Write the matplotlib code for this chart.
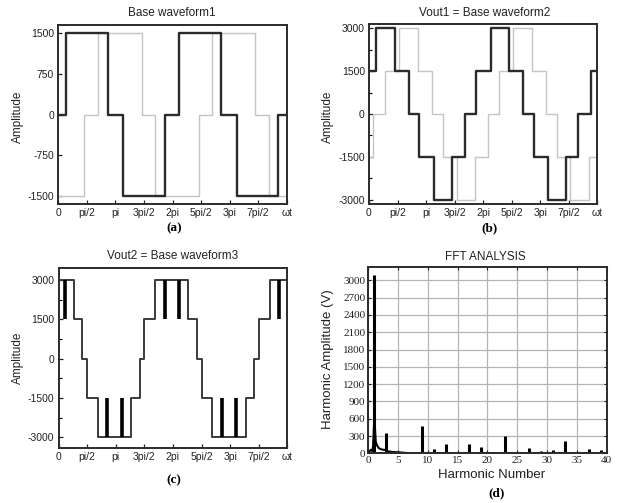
import numpy as np
import matplotlib
matplotlib.use('Agg')
import matplotlib.pyplot as plt

# x positions in degrees (0..720 = 0..4pi)
a_black_edges = [0, 23, 158, 203, 336, 381, 514, 562, 694, 720]
a_black_levels = [0, 1500, 0, -1500, 0, 1500, 0, -1500, 0]
a_gray_edges = [0, 82, 124, 263, 305, 443, 485, 619, 664, 720]
a_gray_levels = [-1500, 0, 1500, 0, -1500, 0, 1500, 0, -1500]

b_black_edges = [0, 22, 82, 127, 158, 206, 263, 303, 338, 385, 442, 487, 519, 564, 621, 660, 701, 720]
b_black_levels = [1500, 3000, 1500, 0, -1500, -3000, -1500, 0, 1500, 3000, 1500, 0, -1500, -3000, -1500, 0, 1500]
b_gray_edges = [0, 14, 52, 95, 153, 198, 232, 276, 334, 376, 410, 454, 514, 559, 593, 635, 693, 720]
b_gray_levels = [-1500, 0, 1500, 3000, 1500, 0, -1500, -3000, -1500, 0, 1500, 3000, 1500, 0, -1500, -3000, -1500]

c_edges = [0, 49, 75, 90, 125, 229, 255, 270, 305, 409, 436, 450, 484, 589, 614, 630, 667, 720]
c_levels = [3000, 1500, 0, -1500, -3000, -1500, 0, 1500, 3000, 1500, 0, -1500, -3000, -1500, 0, 1500, 3000]
c_notch_x = [19, 153, 200, 335, 380, 516, 560, 695]
c_notch_lo = [1500, -3000, -3000, 1500, 1500, -3000, -3000, 1500]
c_notch_hi = [3000, -1500, -1500, 3000, 3000, -1500, -1500, 3000]

x_ticks = [0, 90, 180, 270, 360, 450, 540, 630, 720]
x_ticklabels = ['0', 'pi/2', 'pi', '3pi/2', '2pi', '5pi/2', '3pi', '7pi/2', 'ωt']

# FFT spectrum
spike_h = [1, 3, 9, 11, 13, 17, 19, 23, 27, 29, 31, 33, 37, 39]
spike_amp = [3100, 345, 470, 80, 165, 160, 115, 295, 100, 45, 60, 220, 75, 50]
leak_h = [0.0, 0.3, 0.5, 0.7, 0.85, 1.0, 1.15, 1.3, 1.5, 1.8, 2.2, 2.6, 2.95, 3.05, 3.5, 4.5, 6.0, 7.0, 40]
leak_amp = [0, 40, 60, 40, 120, 490, 470, 200, 140, 90, 70, 60, 60, 50, 30, 20, 10, 0, 0]

W, H = 621, 503
plt.rcParams['font.family'] = ['Liberation Sans', 'DejaVu Sans']
plt.rcParams['axes.unicode_minus'] = False
fig = plt.figure(figsize=(W / 100, H / 100), dpi=100)

dark = '#2b2b2b'
light = '#c4c4c4'


def px_axes(l, t, r, b):
    return fig.add_axes([l / W, 1 - b / H, (r - l) / W, (b - t) / H])


def ftext(x, y, s, **kw):
    fig.text(x / W, 1 - y / H, s, ha='center', va='center', **kw)


def wave_axes(ax, ylim, yticks, yminor):
    ax.set_xlim(0, 720)
    ax.set_ylim(*ylim)
    ax.set_xticks(x_ticks)
    ax.set_xticklabels(x_ticklabels)
    ax.set_yticks(yticks)
    ax.set_yticks(yminor, minor=True)
    ax.tick_params(direction='in', length=3, width=0.9, labelsize=7.5,
                   colors='#222222', pad=3)
    ax.tick_params(which='minor', direction='in', length=2, width=0.8)
    for s in ax.spines.values():
        s.set_linewidth(1.4)
        s.set_color(dark)


# (a)
ax = px_axes(58.3, 25, 286.7, 204)
ax.step(a_gray_edges, a_gray_levels + [a_gray_levels[-1]], where='post', color=light, lw=1.0)
ax.step(a_black_edges, a_black_levels + [a_black_levels[-1]], where='post', color=dark, lw=1.7)
wave_axes(ax, (-1640, 1640), [-1500, -750, 0, 750, 1500], [])
ftext(172, 13, 'Base waveform1', fontsize=8.5, color='#222222')
ftext(18, 117, 'Amplitude', fontsize=8.5, rotation=90, color='#222222')
ftext(174, 228, '(a)', fontsize=9.5, fontweight='bold', family='Liberation Serif')

# (b)
ax = px_axes(369, 24, 597.3, 204)
ax.step(b_gray_edges, b_gray_levels + [b_gray_levels[-1]], where='post', color=light, lw=1.0)
ax.step(b_black_edges, b_black_levels + [b_black_levels[-1]], where='post', color=dark, lw=1.7)
wave_axes(ax, (-3140, 3140), [-3000, -1500, 0, 1500, 3000], [-2250, -750, 750, 2250])
ftext(485, 13, 'Vout1 = Base waveform2', fontsize=8.5, color='#222222')
ftext(328, 117, 'Amplitude', fontsize=8.5, rotation=90, color='#222222')
ftext(489, 228, '(b)', fontsize=9.5, fontweight='bold', family='Liberation Serif')

# (c)
ax = px_axes(58.5, 268.3, 287.3, 448.3)
ax.step(c_edges, c_levels + [c_levels[-1]], where='post', color='#3a3a3a', lw=1.4)
ax.vlines(c_notch_x, c_notch_lo, c_notch_hi, color='black', lw=2.6)
wave_axes(ax, (-3420, 3440), [-3000, -1500, 0, 1500, 3000], [-2250, -750, 750, 2250])
ftext(173, 256, 'Vout2 = Base waveform3', fontsize=8.5, color='#222222')
ftext(18, 358, 'Amplitude', fontsize=8.5, rotation=90, color='#222222')
ftext(174, 480, '(c)', fontsize=9.5, fontweight='bold', family='Liberation Serif')

# (d)
ax = px_axes(368, 266.5, 606.8, 453.3)
ax.plot(leak_h, leak_amp, color='black', lw=1.5)
ax.vlines(spike_h, 0, spike_amp, color='black', lw=2.2)
ax.set_xlim(0, 40)
ax.set_ylim(0, 3240)
ax.set_xticks(np.arange(0, 41, 5))
ax.set_yticks(np.arange(0, 3001, 300))
ax.grid(True, color='#b5b5b5', lw=0.9)
ax.set_axisbelow(True)
ax.tick_params(direction='in', length=2.5, width=0.8, labelsize=8,
               colors='#222222', top=True, right=True, pad=2)
for lab in ax.get_xticklabels() + ax.get_yticklabels():
    lab.set_family('Liberation Serif')
for s in ax.spines.values():
    s.set_linewidth(1.4)
    s.set_color(dark)
ftext(485, 257, 'FFT ANALYSIS', fontsize=8.5, color='#222222')
ftext(328, 359, 'Harmonic Amplitude (V)', fontsize=9.5, rotation=90, color='#222222')
ftext(492, 475, 'Harmonic Number', fontsize=9.5, color='#222222')
ftext(497, 493, '(d)', fontsize=9.5, fontweight='bold', family='Liberation Serif')

fig.savefig('out.png', dpi=100)
